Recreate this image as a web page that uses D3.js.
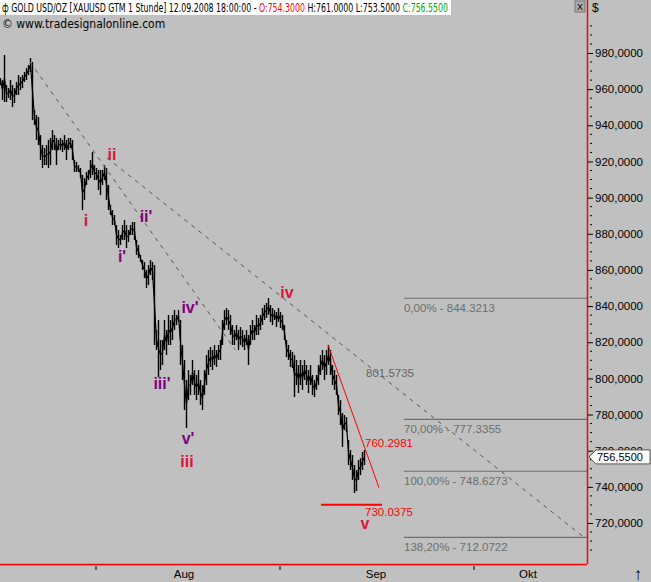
<!DOCTYPE html>
<html>
<head>
<meta charset="utf-8">
<script src="https://cdn.jsdelivr.net/npm/d3@7"></script>
<style>
  body { margin: 0; background: #c0c0c0; }
  svg { display: block; font-family: "Liberation Sans", Arial, sans-serif; }
</style>
</head>
<body>
<svg id="chart" width="651" height="582"></svg>
<script>
// hourly bar highs / lows (one entry every ~2px)
const highs = [966.2,965.1,978.9,962.3,960.6,965.1,962.3,960.6,964.0,967.8,966.7,967.8,969.5,971.7,973.4,977.2,
  975.0,948.5,945.7,944.6,934.6,929.1,927.4,929.1,931.9,933.0,937.4,934.6,933.0,931.9,933.0,931.9,934.6,931.9,933.0,933.0,931.9,
  920.8,919.7,918.0,916.4,912.5,910.8,914.2,915.3,920.8,925.2,918.0,916.4,915.3,915.3,915.3,918.0,916.4,907.0,895.9,893.1,890.4,
  884.8,882.1,879.3,884.8,887.6,884.8,882.1,884.8,886.5,886.5,876.6,873.8,868.3,865.5,864.4,860.0,862.7,865.5,864.4,862.7,
  826.8,832.3,821.2,821.2,832.3,826.8,835.1,832.3,835.1,837.8,835.1,837.8,832.3,818.5,810.2,799.1,804.6,801.9,810.2,804.6,801.9,
  804.6,799.1,796.3,804.6,812.9,815.7,817.4,815.7,818.5,815.7,818.5,821.2,832.3,837.8,838.9,837.8,835.1,829.5,826.8,829.5,826.8,
  828.4,826.8,824.0,826.8,824.0,829.5,832.3,829.5,835.1,833.4,835.1,838.9,840.6,841.7,844.5,840.6,838.9,837.8,836.7,838.9,836.7,
  835.1,829.5,821.2,818.5,815.7,814.6,812.9,810.2,807.4,810.2,807.4,810.2,807.4,804.6,807.4,801.9,799.1,801.9,807.4,812.9,815.7,
  812.9,815.7,818.5,815.7,807.4,804.6,801.9,790.8,788.0,780.8,779.7,778.6,765.9,760.4,757.6,752.1,749.3,754.8,755.9,759.3,760.4];
const lows = [962.3,954.0,952.9,952.9,955.1,954.0,950.1,952.3,956.8,956.8,959.5,960.6,964.0,965.1,967.8,969.5,
  942.9,940.2,931.9,929.1,920.8,916.4,918.0,918.0,916.4,918.0,926.3,926.3,918.0,926.3,926.3,925.2,926.3,920.8,926.3,927.4,920.8,
  914.2,914.2,914.2,910.8,893.1,898.7,907.0,909.7,910.8,912.5,909.7,909.7,904.2,901.4,907.0,909.7,898.7,893.1,890.4,884.8,884.8,
  873.8,872.1,873.8,876.6,876.6,872.1,875.4,879.3,879.3,876.6,868.3,866.6,864.4,860.0,855.5,850.0,851.7,857.2,854.4,818.5,
  815.7,800.8,804.6,807.4,815.7,812.9,818.5,818.5,821.2,826.8,829.5,831.2,807.4,799.1,782.5,772.5,788.0,790.8,796.3,790.8,788.0,
  790.8,785.3,782.5,790.8,796.3,801.9,806.3,804.6,807.4,806.3,810.2,810.2,818.5,826.8,829.5,826.8,824.0,818.5,818.5,821.2,815.7,
  818.5,817.4,815.7,818.5,807.4,818.5,821.2,821.2,824.0,824.0,826.8,829.5,832.3,833.4,835.1,831.2,829.5,832.3,828.4,831.2,827.9,
  826.8,821.2,811.8,810.2,806.3,805.7,789.7,796.3,791.9,796.3,793.6,799.1,796.3,791.9,796.3,790.8,789.7,793.6,796.3,801.9,804.6,
  799.1,801.9,807.4,801.9,796.3,793.6,790.8,779.7,774.2,762.0,771.4,770.3,752.1,749.3,743.8,736.6,737.7,743.8,746.5,749.3,752.1];

const priceTicks = [720, 740, 760, 780, 800, 820, 840, 860, 880, 900, 920, 940, 960, 980];
const months = ["Aug", "Sep", "Okt"];
const monthIdx = [92, 188, 264];      // bar position of month labels
const weekTicks = [48, 140, 237];     // bar position of axis ticks

const fibLevels = [844.3213, 777.3355, 748.6273, 712.0722];
const fibNames = ["0,00%", "70,00%", "100,00%", "138,20%"];
const lastClose = 756.55;

// wave labels: [label, bar position, price at baseline, colour group]
const waves = [
  ["i", 43, 884.3, "main"], ["ii", 56, 920.8, "main"], ["iii", 93.5, 751.0, "main"],
  ["iv", 143.5, 844.5, "main"], ["v", 182.5, 716.5, "main"],
  ["i'", 61, 864.4, "sub"], ["ii'", 73, 886.5, "sub"], ["iii'", 81, 794.1, "sub"],
  ["iv'", 95, 836.2, "sub"], ["v'", 94, 763.7, "sub"]
];

const W = 587, H = 564;
const svg = d3.select("#chart");
const x = d3.scaleLinear().domain([0, 1]).range([0, 2]);
const y = d3.scaleLinear().domain([720, 980]).range([523, 53]);

// price bars
const g = svg.append("g");
g.selectAll("line.bar").data(highs).join("line")
  .attr("class", "bar")
  .attr("x1", (d, i) => x(i) + 0.5).attr("x2", (d, i) => x(i) + 0.5)
  .attr("y1", d => y(d)).attr("y2", (d, i) => y(lows[i]))
  .attr("stroke", "#000").attr("stroke-width", 1.4);
g.append("path")
  .datum(highs.map((d, i) => (d + lows[i]) / 2))
  .attr("d", d3.line().x((d, i) => x(i) + 0.5).y(d => y(d)))
  .attr("fill", "none").attr("stroke", "#000").attr("stroke-width", 1.2);

// dashed trend lines
const trend = [[[15, 975], [117.5, 816]], [[53.5, 922], [291.5, 712.5]]];
trend.forEach(t => {
  svg.append("line")
    .attr("x1", x(t[0][0])).attr("y1", y(t[0][1]))
    .attr("x2", x(t[1][0])).attr("y2", y(t[1][1]))
    .attr("stroke", "#555").attr("stroke-dasharray", "4,5");
});
svg.append("text").attr("x", 366).attr("y", y(801.5735) + 1)
  .attr("fill", "#666").attr("font-size", 11.5).text("801.5735");

// red channel
svg.append("line").attr("x1", x(164)).attr("y1", y(818.5))
  .attr("x2", x(189.5)).attr("y2", y(739.5)).attr("stroke", "#f00").attr("stroke-width", 1);
svg.append("line").attr("x1", x(160.5)).attr("y1", y(730.0375))
  .attr("x2", x(191)).attr("y2", y(730.0375)).attr("stroke", "#f00").attr("stroke-width", 2);
svg.append("text").attr("x", 365).attr("y", 447).attr("fill", "#f00").attr("font-size", 11.5).text("760.2981");
svg.append("text").attr("x", 365).attr("y", 516).attr("fill", "#f00").attr("font-size", 11.5).text("730.0375");

// fibonacci levels
fibLevels.forEach((v, i) => {
  svg.append("line").attr("x1", 404).attr("x2", W).attr("y1", y(v)).attr("y2", y(v))
    .attr("stroke", "#6e6e6e").attr("stroke-width", 1.2);
  svg.append("text").attr("x", 404).attr("y", y(v) + 14)
    .attr("fill", "#6e6e6e").attr("font-size", 11.5)
    .text(fibNames[i] + " - " + v.toFixed(4));
});

// wave labels
svg.selectAll("text.wave").data(waves).join("text")
  .attr("class", "wave")
  .attr("x", d => x(d[1])).attr("y", d => y(d[2]))
  .attr("text-anchor", "middle")
  .attr("font-size", 16).attr("font-weight", "bold")
  .attr("fill", d => d[3] == "main" ? "#dc143c" : "#800080")
  .text(d => d[0]);

// right axis
svg.append("line").attr("x1", W + 0.5).attr("x2", W + 0.5).attr("y1", 0).attr("y2", H)
  .attr("stroke", "#f00").attr("stroke-width", 1.5);
svg.append("line").attr("x1", 0).attr("x2", W).attr("y1", H + 0.5).attr("y2", H + 0.5)
  .attr("stroke", "#f00").attr("stroke-width", 1.5);
const yAxis = d3.axisRight(y).tickValues(priceTicks).tickSize(5).tickPadding(2)
  .tickFormat(d => d3.format(".4f")(d).replace(".", ","));
const ya = svg.append("g").attr("transform", `translate(${W + 1},0)`).call(yAxis);
ya.select(".domain").remove();
ya.selectAll("text").attr("font-size", 11.5).attr("fill", "#000")
  .attr("font-family", "'Liberation Sans', Arial, sans-serif");
// minor ticks
const minors = d3.range(705, 1000, 5).filter(v => v % 20 != 0 && y(v) > 0 && y(v) < H);
svg.selectAll("line.minor").data(minors).join("line")
  .attr("x1", W + 3).attr("x2", W + 5).attr("y1", d => y(d)).attr("y2", d => y(d))
  .attr("stroke", "#000");

// bottom axis
svg.selectAll("line.wk").data(weekTicks).join("line")
  .attr("x1", d => x(d)).attr("x2", d => x(d)).attr("y1", H + 2).attr("y2", H + 6)
  .attr("stroke", "#000");
svg.selectAll("text.month").data(months).join("text")
  .attr("x", (d, i) => x(monthIdx[i])).attr("y", 578).attr("text-anchor", "middle")
  .attr("font-size", 11.5).text(d => d);
svg.append("text").attr("x", 638).attr("y", 580).attr("text-anchor", "middle").attr("font-size", 17).text("↑");

// last price marker
const ly = y(lastClose);
svg.append("path")
  .attr("d", `M${W + 2},${ly} L${W + 9},${ly - 7} L650,${ly - 7} L650,${ly + 7} L${W + 9},${ly + 7} Z`)
  .attr("fill", "#fff").attr("stroke", "#555");
svg.append("text").attr("x", W + 10).attr("y", ly + 4).attr("font-size", 11).text("756,5500");

// header
svg.append("rect").attr("x", 0).attr("y", 0).attr("width", 451).attr("height", 15).attr("fill", "#fff");
const hdr = svg.append("text").attr("x", 2).attr("y", 11.5).attr("font-size", 12)
  .attr("font-family", "'DejaVu Sans Condensed', 'Liberation Sans Narrow', sans-serif")
  .attr("textLength", 446).attr("lengthAdjust", "spacingAndGlyphs");
hdr.append("tspan").text("ф GOLD USD/OZ [XAUUSD GTM  1 Stunde] 12.09.2008 18:00:00 - ");
hdr.append("tspan").attr("fill", "#f00").text("O:754.3000 ");
hdr.append("tspan").text("H:761.0000 L:753.5000 ");
hdr.append("tspan").attr("fill", "#0a0").text("C:756.5500");
svg.append("text").attr("x", 2).attr("y", 28).attr("font-size", 12)
  .attr("font-family", "'DejaVu Sans Condensed', sans-serif").text("© www.tradesignalonline.com");
svg.append("rect").attr("x", 575).attr("y", 1).attr("width", 10).attr("height", 11)
  .attr("fill", "#aaa").attr("stroke", "#777");
svg.append("text").attr("x", 580).attr("y", 10).attr("text-anchor", "middle").attr("font-size", 9).text("X");
svg.append("text").attr("x", 592).attr("y", 12).attr("font-size", 12).text("$");
</script>
</body>
</html>
